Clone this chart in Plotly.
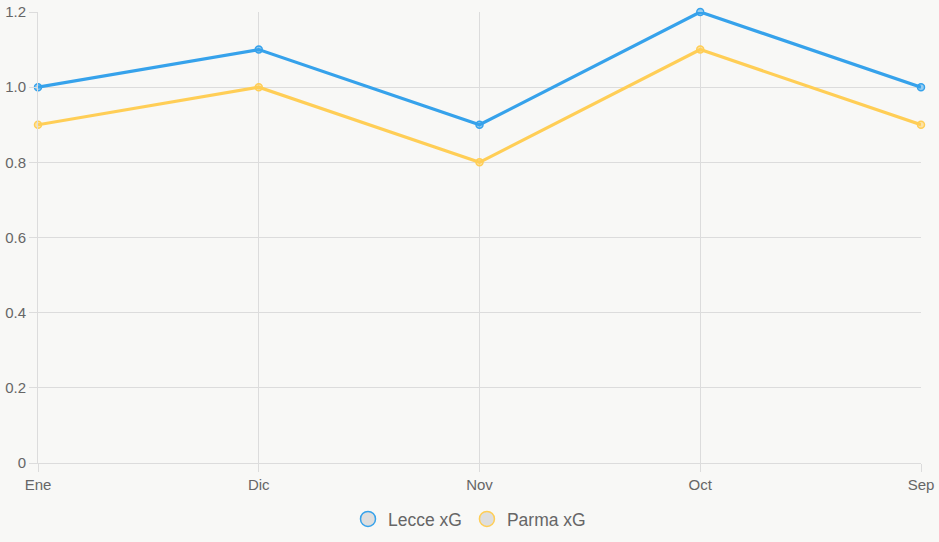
import plotly.graph_objects as go

months = ["Ene", "Dic", "Nov", "Oct", "Sep"]
lecce_xg = [1.0, 1.1, 0.9, 1.2, 1.0]
parma_xg = [0.9, 1.0, 0.8, 1.1, 0.9]
series_names = ["Lecce xG", "Parma xG"]
colors = ["#36A2EB", "#FFCE56"]
fills = ["rgba(54,162,235,0.5)", "rgba(255,206,86,0.5)"]

fig = go.Figure()
for name, vals, c, f in zip(series_names, [lecce_xg, parma_xg], colors, fills):
    fig.add_trace(go.Scatter(
        x=months, y=vals, mode="lines+markers", name=name, showlegend=False,
        line=dict(color=c, width=3.2),
        marker=dict(size=7, color=f, line=dict(color=c, width=1.5)),
        cliponaxis=False,
    ))
for name, c in zip(series_names, colors):
    fig.add_trace(go.Scatter(
        x=[None], y=[None], mode="markers", name=name,
        marker=dict(size=15, color="#dedede", line=dict(color=c, width=1.5)),
    ))

grid = "#dcdcdc"
fig.update_layout(
    width=939, height=542,
    paper_bgcolor="#f8f8f6", plot_bgcolor="#f8f8f6",
    margin=dict(l=38, r=18, t=12, b=79),
    font=dict(family="Liberation Sans, Arial, sans-serif", size=15, color="#666666"),
    legend=dict(orientation="h", xref="container", x=0.5, xanchor="center",
                yref="container", y=(542 - 519) / 542, yanchor="middle",
                font=dict(size=17.5, color="#666666"), itemwidth=30),
    xaxis=dict(type="category", range=[0, 4], showgrid=True, gridcolor=grid,
               showline=True, linecolor=grid, ticks="outside", ticklen=8,
               tickcolor=grid, zeroline=False, automargin=False),
    yaxis=dict(range=[0, 1.2], showgrid=True, gridcolor=grid,
               showline=True, linecolor=grid, ticks="outside", ticklen=8,
               tickcolor=grid, zeroline=False, automargin=False,
               tickvals=[0, 0.2, 0.4, 0.6, 0.8, 1.0, 1.2],
               ticktext=["0", "0.2", "0.4", "0.6", "0.8", "1.0", "1.2"]),
)
fig.write_html("out.html")
